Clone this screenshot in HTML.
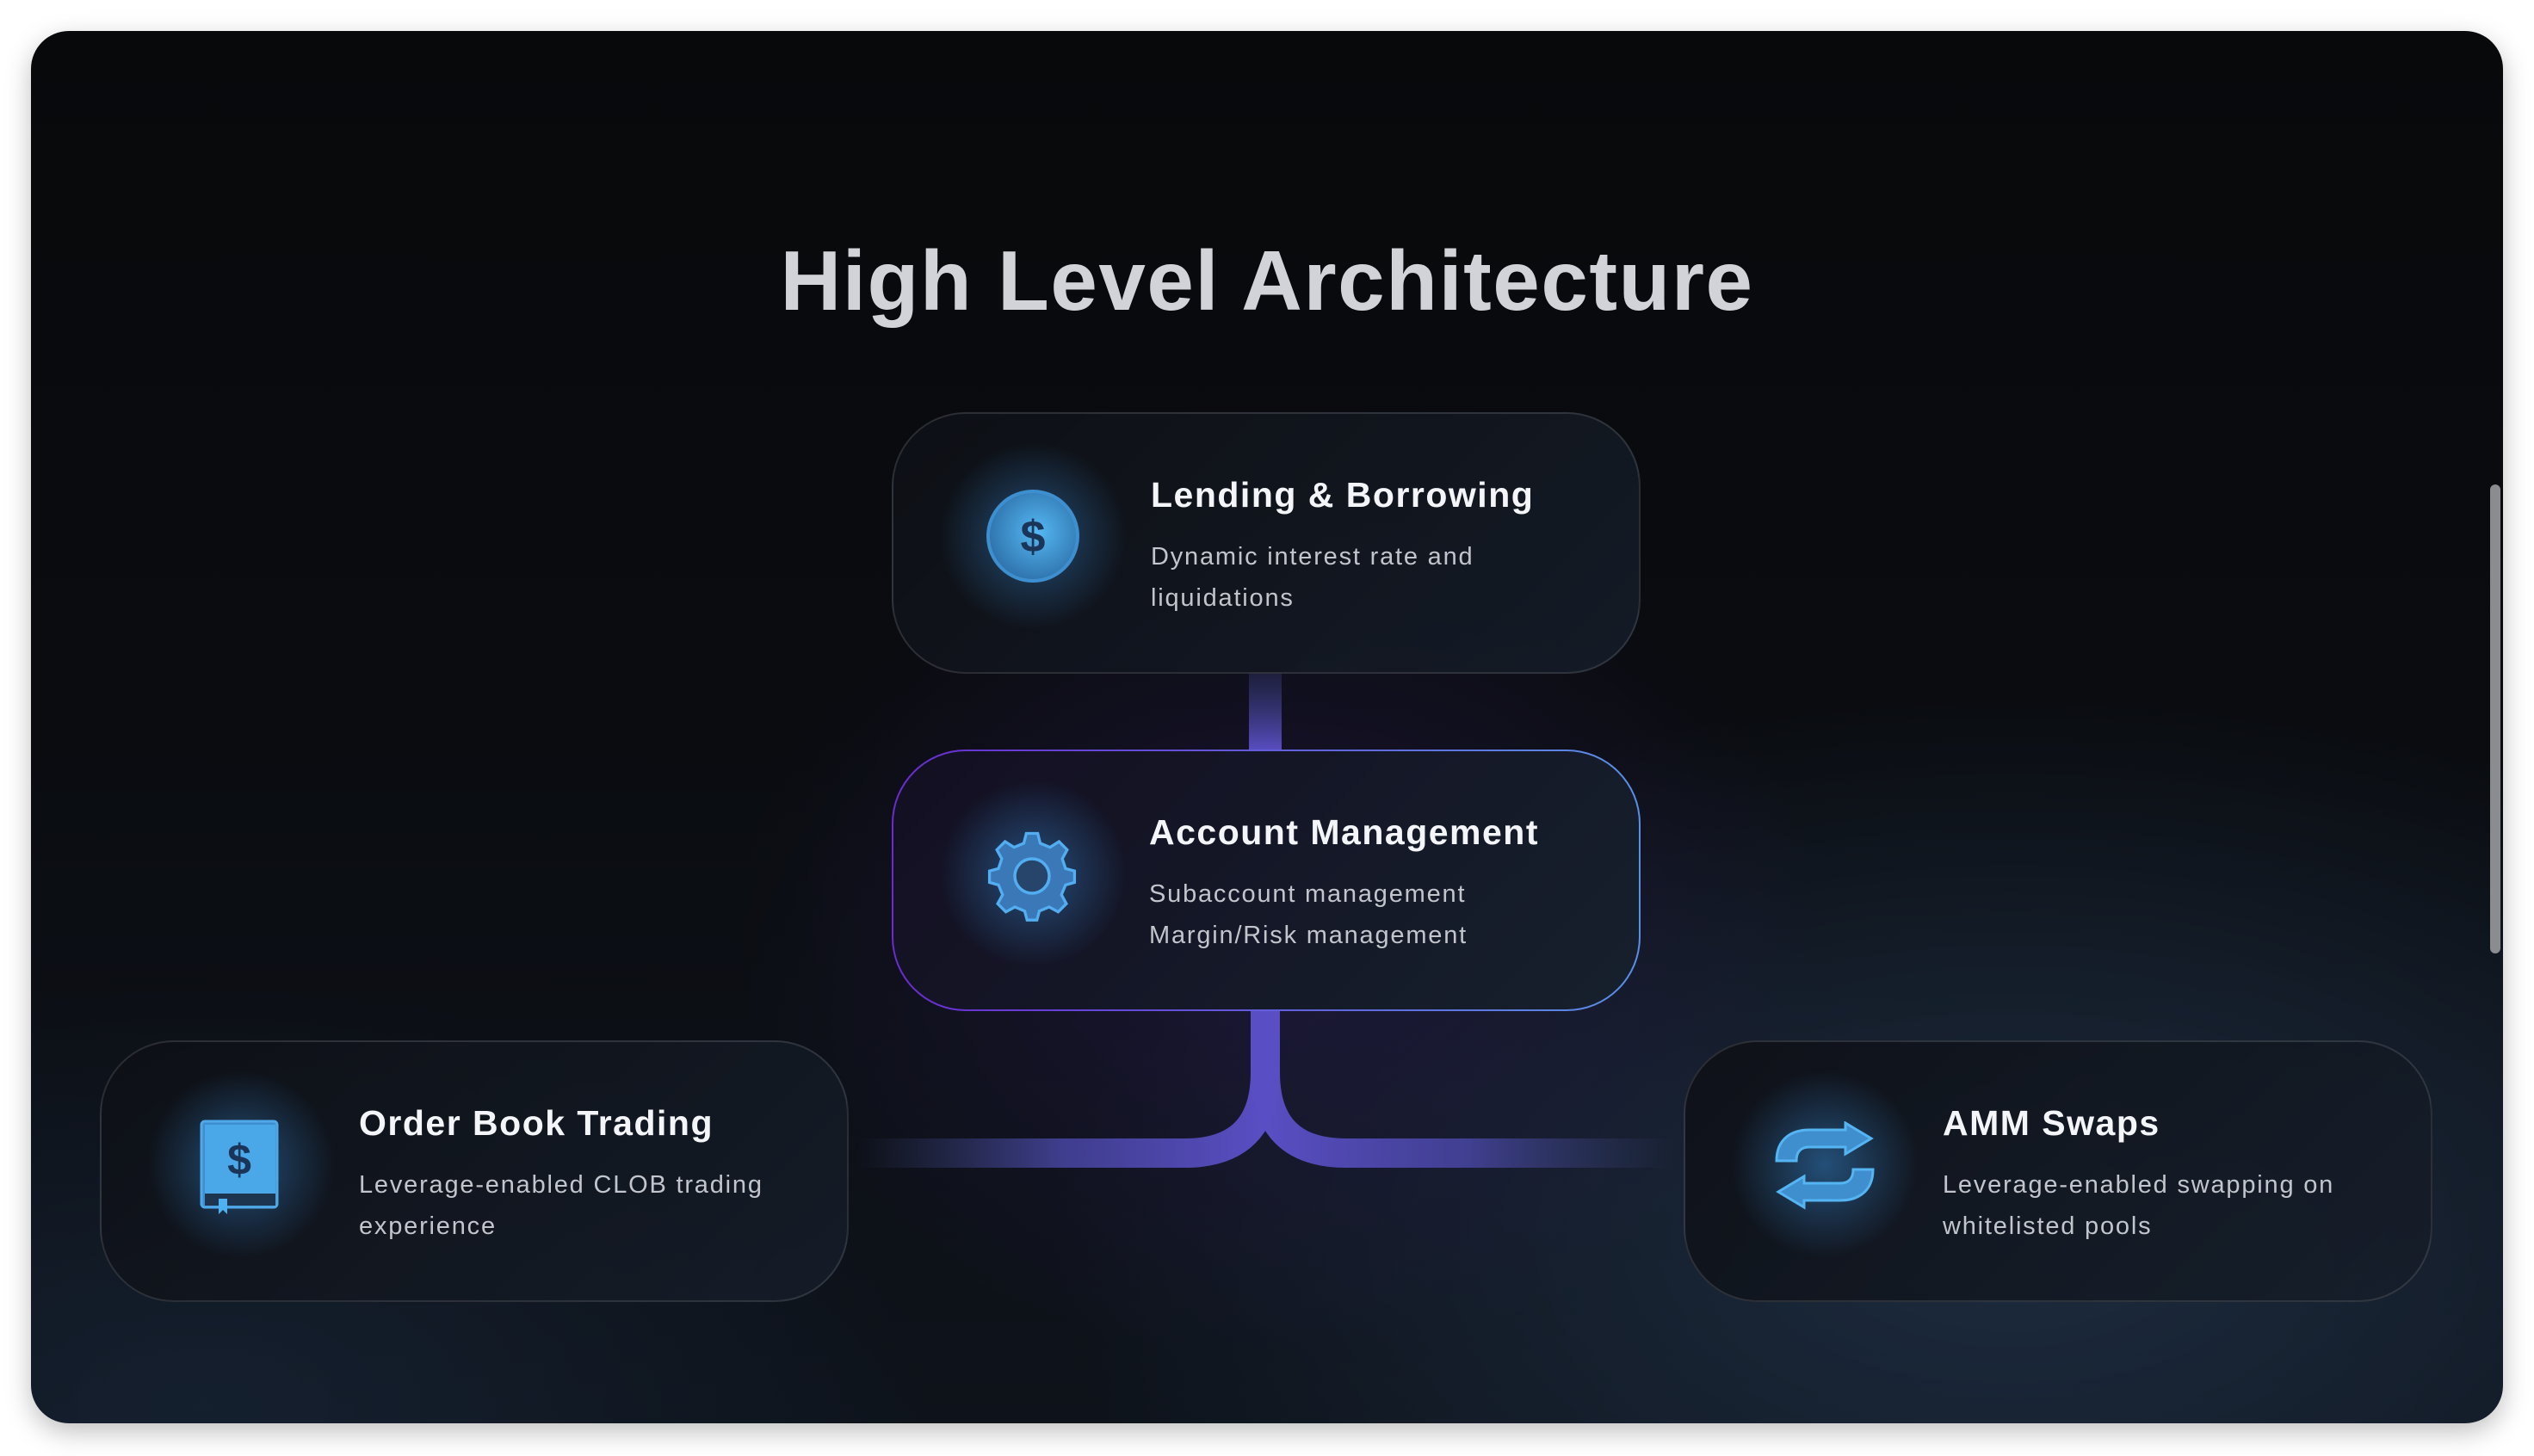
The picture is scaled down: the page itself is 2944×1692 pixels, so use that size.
<!DOCTYPE html>
<html><head><meta charset="utf-8"><style>
html,body{margin:0;padding:0;background:#fff;width:2944px;height:1692px;overflow:hidden;font-family:"Liberation Sans",sans-serif}
#panel{position:absolute;left:36px;top:36px;width:2872px;height:1618px;border-radius:44px;overflow:hidden;
background:
radial-gradient(ellipse 900px 700px at 1450px 1050px,rgba(45,30,90,0.45),rgba(0,0,0,0) 70%),
radial-gradient(ellipse 1600px 900px at 2300px 1400px,rgba(35,55,80,0.7),rgba(0,0,0,0) 70%),
radial-gradient(ellipse 1200px 700px at 200px 1600px,rgba(25,40,60,0.6),rgba(0,0,0,0) 70%),
linear-gradient(180deg,#08090b 0%,#0a0c10 50%,#0e131b 100%);
box-shadow:0 10px 30px rgba(0,0,0,0.25)}
.title{position:absolute;left:0;width:2872px;top:234px;text-align:center;color:#d2d3d8;font-size:98px;font-weight:bold;letter-spacing:1.5px}
.card{position:absolute;width:870px;height:304px;border-radius:86px;border:2px solid rgba(255,255,255,0.12);box-sizing:border-box;
background:linear-gradient(135deg,rgba(14,16,22,0.9),rgba(22,30,42,0.85))}
.card h3{position:absolute;margin:0;font-size:41px;font-weight:bold;color:#f4f5f8;letter-spacing:1.5px;white-space:nowrap}
.card p{position:absolute;margin:0;font-size:29px;line-height:48px;color:#c3c5cc;letter-spacing:1.8px;white-space:nowrap}
.glow{position:absolute;border-radius:50%;background:radial-gradient(circle,rgba(60,150,230,0.45),rgba(60,150,230,0) 70%)}
#scroll{position:absolute;left:2857px;top:527px;width:12px;height:545px;border-radius:6px;background:#8a8c90}
</style></head><body>
<div id="panel">
<div class="title">High Level Architecture</div>

<svg width="2872" height="1618" style="position:absolute;left:0;top:0">
<defs>
<linearGradient id="v1" x1="0" y1="0" x2="0" y2="1"><stop offset="0" stop-color="#2a2f5a" stop-opacity="0.5"/><stop offset="1" stop-color="#5a4ec4"/></linearGradient>
<linearGradient id="hl" gradientUnits="userSpaceOnUse" x1="960" y1="0" x2="1434" y2="0"><stop offset="0" stop-color="#3a4a7a" stop-opacity="0"/><stop offset="0.5" stop-color="#4a48a8" stop-opacity="0.8"/><stop offset="1" stop-color="#5a4ec4"/></linearGradient>
<linearGradient id="hr" gradientUnits="userSpaceOnUse" x1="1434" y1="0" x2="1910" y2="0"><stop offset="0" stop-color="#5a4ec4"/><stop offset="0.5" stop-color="#4a48a8" stop-opacity="0.8"/><stop offset="1" stop-color="#3a4a7a" stop-opacity="0"/></linearGradient>
</defs>
<rect x="1415" y="745" width="38" height="92" fill="url(#v1)"/>
<path d="M1434,1130 V1210 Q1434,1304 1340,1304 H960" stroke="url(#hl)" stroke-width="34" fill="none"/>
<path d="M1434,1130 V1210 Q1434,1304 1528,1304 H1910" stroke="url(#hr)" stroke-width="34" fill="none"/>
</svg>

<!-- Lending -->
<div class="card" style="left:1000px;top:443px">
<div class="glow" style="left:52px;top:32px;width:220px;height:220px"></div>
<svg style="position:absolute;left:106px;top:86px" width="112" height="112" viewBox="0 0 112 112">
<defs><radialGradient id="cg" cx="0.55" cy="0.45" r="0.6"><stop offset="0" stop-color="#55b8f2"/><stop offset="1" stop-color="#2c6ea8"/></radialGradient></defs>
<circle cx="56" cy="56" r="52" fill="url(#cg)" stroke="#3d8fd0" stroke-width="4"/>
<text x="56" y="74" text-anchor="middle" font-family="Liberation Sans" font-weight="bold" font-size="52" fill="#1b3558">$</text>
</svg>
<h3 style="left:299px;top:71px">Lending &amp; Borrowing</h3>
<p style="left:299px;top:142px">Dynamic interest rate and<br>liquidations</p>
</div>

<!-- Account -->
<div class="card" style="left:1000px;top:835px;border:2.5px solid transparent;background:linear-gradient(135deg,#130f22,#16202c) padding-box,linear-gradient(90deg,#6a2bd0,#5a8fe6) border-box">
<div class="glow" style="left:52px;top:32px;width:220px;height:220px"></div>
<svg style="position:absolute;left:106px;top:88px" width="110" height="110" viewBox="-55 -55 110 110">
<g fill="#3a78b8" stroke="#52aef0" stroke-width="3.5">
<path d="M-7,-50 L7,-50 L10,-38 L22,-33 L33,-40 L43,-30 L37,-19 L41,-7 L52,-4 L52,10 L41,13 L36,25 L42,36 L32,46 L21,40 L9,45 L6,56 L-6,56 L-9,45 L-21,40 L-32,46 L-42,36 L-36,25 L-41,13 L-52,10 L-52,-4 L-41,-7 L-37,-19 L-43,-30 L-33,-40 L-22,-33 L-10,-38 Z" transform="scale(0.95)"/>
<circle cx="0" cy="2" r="20" fill="#27456a"/>
</g></svg>
<h3 style="left:297px;top:71px">Account Management</h3>
<p style="left:297px;top:142px">Subaccount management<br>Margin/Risk management</p>
</div>

<!-- Order Book -->
<div class="card" style="left:80px;top:1173px">
<div class="glow" style="left:52px;top:32px;width:220px;height:220px"></div>
<svg style="position:absolute;left:114px;top:90px" width="96" height="112" viewBox="0 0 96 112">
<rect x="2" y="2" width="88" height="100" rx="4" fill="#3f8fd0" stroke="#4fa8e8" stroke-width="3"/>
<rect x="6" y="6" width="82" height="80" fill="#4aa8e8"/>
<rect x="6" y="86" width="82" height="14" fill="#1e3550"/>
<path d="M22,92 V110 L27,105 L32,110 V92 Z" fill="#4fb0f0"/>
<text x="46" y="64" text-anchor="middle" font-family="Liberation Sans" font-weight="bold" font-size="50" fill="#1b3558">$</text>
</svg>
<h3 style="left:299px;top:71px">Order Book Trading</h3>
<p style="left:299px;top:142px">Leverage-enabled CLOB trading<br>experience</p>
</div>

<!-- AMM -->
<div class="card" style="left:1920px;top:1173px">
<div class="glow" style="left:52px;top:32px;width:220px;height:220px"></div>
<svg style="position:absolute;left:104px;top:92px" width="116" height="104" viewBox="0 0 116 104">
<g fill="#3f8fcf" stroke="#55b4f2" stroke-width="3">
<path d="M2,46 C2,20 20,10 40,10 H82 V2 L112,20 L82,38 V30 H40 C30,30 25,36 25,46 Z"/>
<path d="M114,56 C114,82 96,92 76,92 H34 V100 L4,82 L34,64 V72 H76 C86,72 91,66 91,56 Z"/>
</g></svg>
<h3 style="left:299px;top:71px">AMM Swaps</h3>
<p style="left:299px;top:142px">Leverage-enabled swapping on<br>whitelisted pools</p>
</div>

<div id="scroll"></div>
</div>
</body></html>
